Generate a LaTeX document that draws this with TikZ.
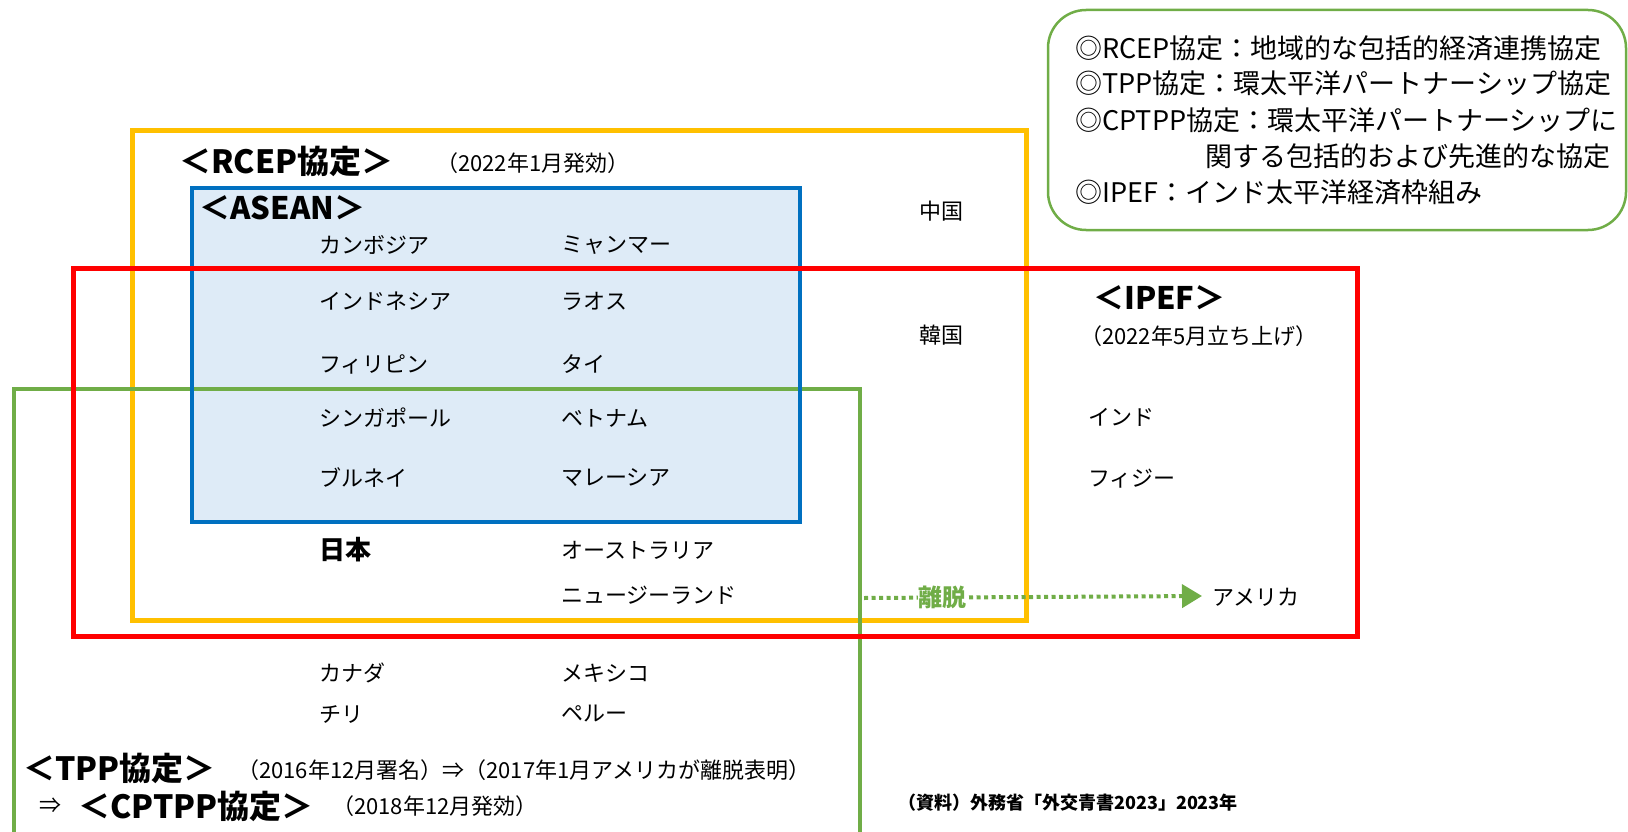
\documentclass[tikz,border=0pt]{standalone}
\usepackage{fontspec}
\setmainfont{Noto Sans CJK JP}
\usetikzlibrary{arrows.meta}
\definecolor{cOrange}{RGB}{255,192,0}
\definecolor{cRed}{RGB}{255,0,0}
\definecolor{cBlue}{RGB}{0,112,192}
\definecolor{cBlueFill}{RGB}{222,235,247}
\definecolor{cGreen}{RGB}{112,173,71}
\tikzset{
  country/.style={anchor=west, inner sep=0pt, font=\fontsize{22}{26}\selectfont},
  headbig/.style={anchor=west, inner sep=0pt, font=\fontsize{32}{36}\selectfont\bfseries},
  headreg/.style={anchor=west, inner sep=0pt, font=\fontsize{31}{34}\selectfont\bfseries},
  datenote/.style={anchor=west, inner sep=0pt, font=\fontsize{22}{26}\selectfont},
  legendtext/.style={anchor=west, inner sep=0pt, font=\fontsize{27}{32}\selectfont},
  srcnote/.style={anchor=west, inner sep=0pt, font=\fontsize{18}{22}\selectfont\bfseries},
  leavearrow/.style={cGreen, line width=4pt, dash pattern=on 4pt off 3.5pt,
    -{Triangle[length=20pt,width=23pt]}},
}
\begin{document}
\begin{tikzpicture}[x=1pt,y=-1pt]
\useasboundingbox (0,0) rectangle (1628,832);
\clip (0,0) rectangle (1628,832);
% ASEAN fill
\fill[cBlueFill] (192,188) rectangle (800,522);
% RCEP box
\draw[cOrange, line width=5pt] (132.5,130.5) rectangle (1026.5,620);
% TPP box (open at bottom)
\draw[cGreen, line width=4pt] (14,850) -- (14,389) -- (860,389) -- (860,850);
% ASEAN border
\draw[cBlue, line width=4.5pt] (192,188) rectangle (800,522);
% IPEF box
\draw[cRed, line width=5pt] (73.5,268) rectangle (1357,636);
% legend box
\draw[cGreen, line width=2.5pt, rounded corners=38pt] (1048,10) rectangle (1626,230);

% legend text
\node[legendtext] (l1) at (1075,48) {◎RCEP協定：地域的な包括的経済連携協定};
\node[legendtext] (l2) at (1075,83) {◎TPP協定：環太平洋パートナーシップ協定};
\node[legendtext] (l3) at (1075,120) {◎CPTPP協定：環太平洋パートナーシップに};
\node[legendtext] (l4) at (1205,156) {関する包括的および先進的な協定};
\node[legendtext] (l5) at (1075,192) {◎IPEF：インド太平洋経済枠組み};

% headings
\node[headbig] (rcep) at (179,161) {＜RCEP協定＞};
\node[datenote] (rcepdate) at (436,163) {（2022年1月発効）};
\node[headreg] (asean) at (199,208) {＜ASEAN＞};
\node[headreg] (ipef) at (1093,298) {＜IPEF＞};
\node[datenote] (ipefdate) at (1080,336) {（2022年5月立ち上げ）};
\node[headbig] (tpp) at (23,768) {＜TPP協定＞};
\node[datenote] (tppdate) at (237,770) {（2016年12月署名）⇒（2017年1月アメリカが離脱表明）};
\node[datenote] (arrowsym) at (39,806) {⇒};
\node[headbig] (cptpp) at (78,806) {＜CPTPP協定＞};
\node[datenote] (cptppdate) at (332,806) {（2018年12月発効）};
\node[srcnote] (src) at (898,803) {（資料）外務省「外交青書2023」2023年};

% ASEAN members
\node[country] (khm) at (319,245) {カンボジア};
\node[country] (mmr) at (561,245) {ミャンマー};
\node[country] (idn) at (319,301) {インドネシア};
\node[country] (lao) at (561,301) {ラオス};
\node[country] (phl) at (319,364) {フィリピン};
\node[country] (tha) at (561,364) {タイ};
\node[country] (sgp) at (319,418) {シンガポール};
\node[country] (vnm) at (561,418) {ベトナム};
\node[country] (brn) at (319,478) {ブルネイ};
\node[country] (mys) at (561,478) {マレーシア};
% others
\node[country, font=\fontsize{26}{30}\selectfont\bfseries] (jpn) at (319,550) {日本};
\node[country] (aus) at (561,550) {オーストラリア};
\node[country] (nzl) at (561,595) {ニュージーランド};
\node[country] (can) at (319,673) {カナダ};
\node[country] (mex) at (561,673) {メキシコ};
\node[country] (chl) at (319,714) {チリ};
\node[country] (per) at (561,714) {ペルー};
\node[country] (chn) at (919,211) {中国};
\node[country] (kor) at (919,335) {韓国};
\node[country] (ind) at (1088,417) {インド};
\node[country] (fji) at (1088,479) {フィジー};
\node[country] (usa) at (1212,597) {アメリカ};

% withdrawal arrow
\coordinate (arrS) at (864,598);
\draw[leavearrow] (arrS) -- ([xshift=-10pt,yshift=1pt]usa.west)
  node[pos=0.233, fill=white, inner sep=1pt, text=cGreen,
       font=\fontsize{24}{28}\selectfont\bfseries] (ridatsu) {離脱};
\end{tikzpicture}
\end{document}
